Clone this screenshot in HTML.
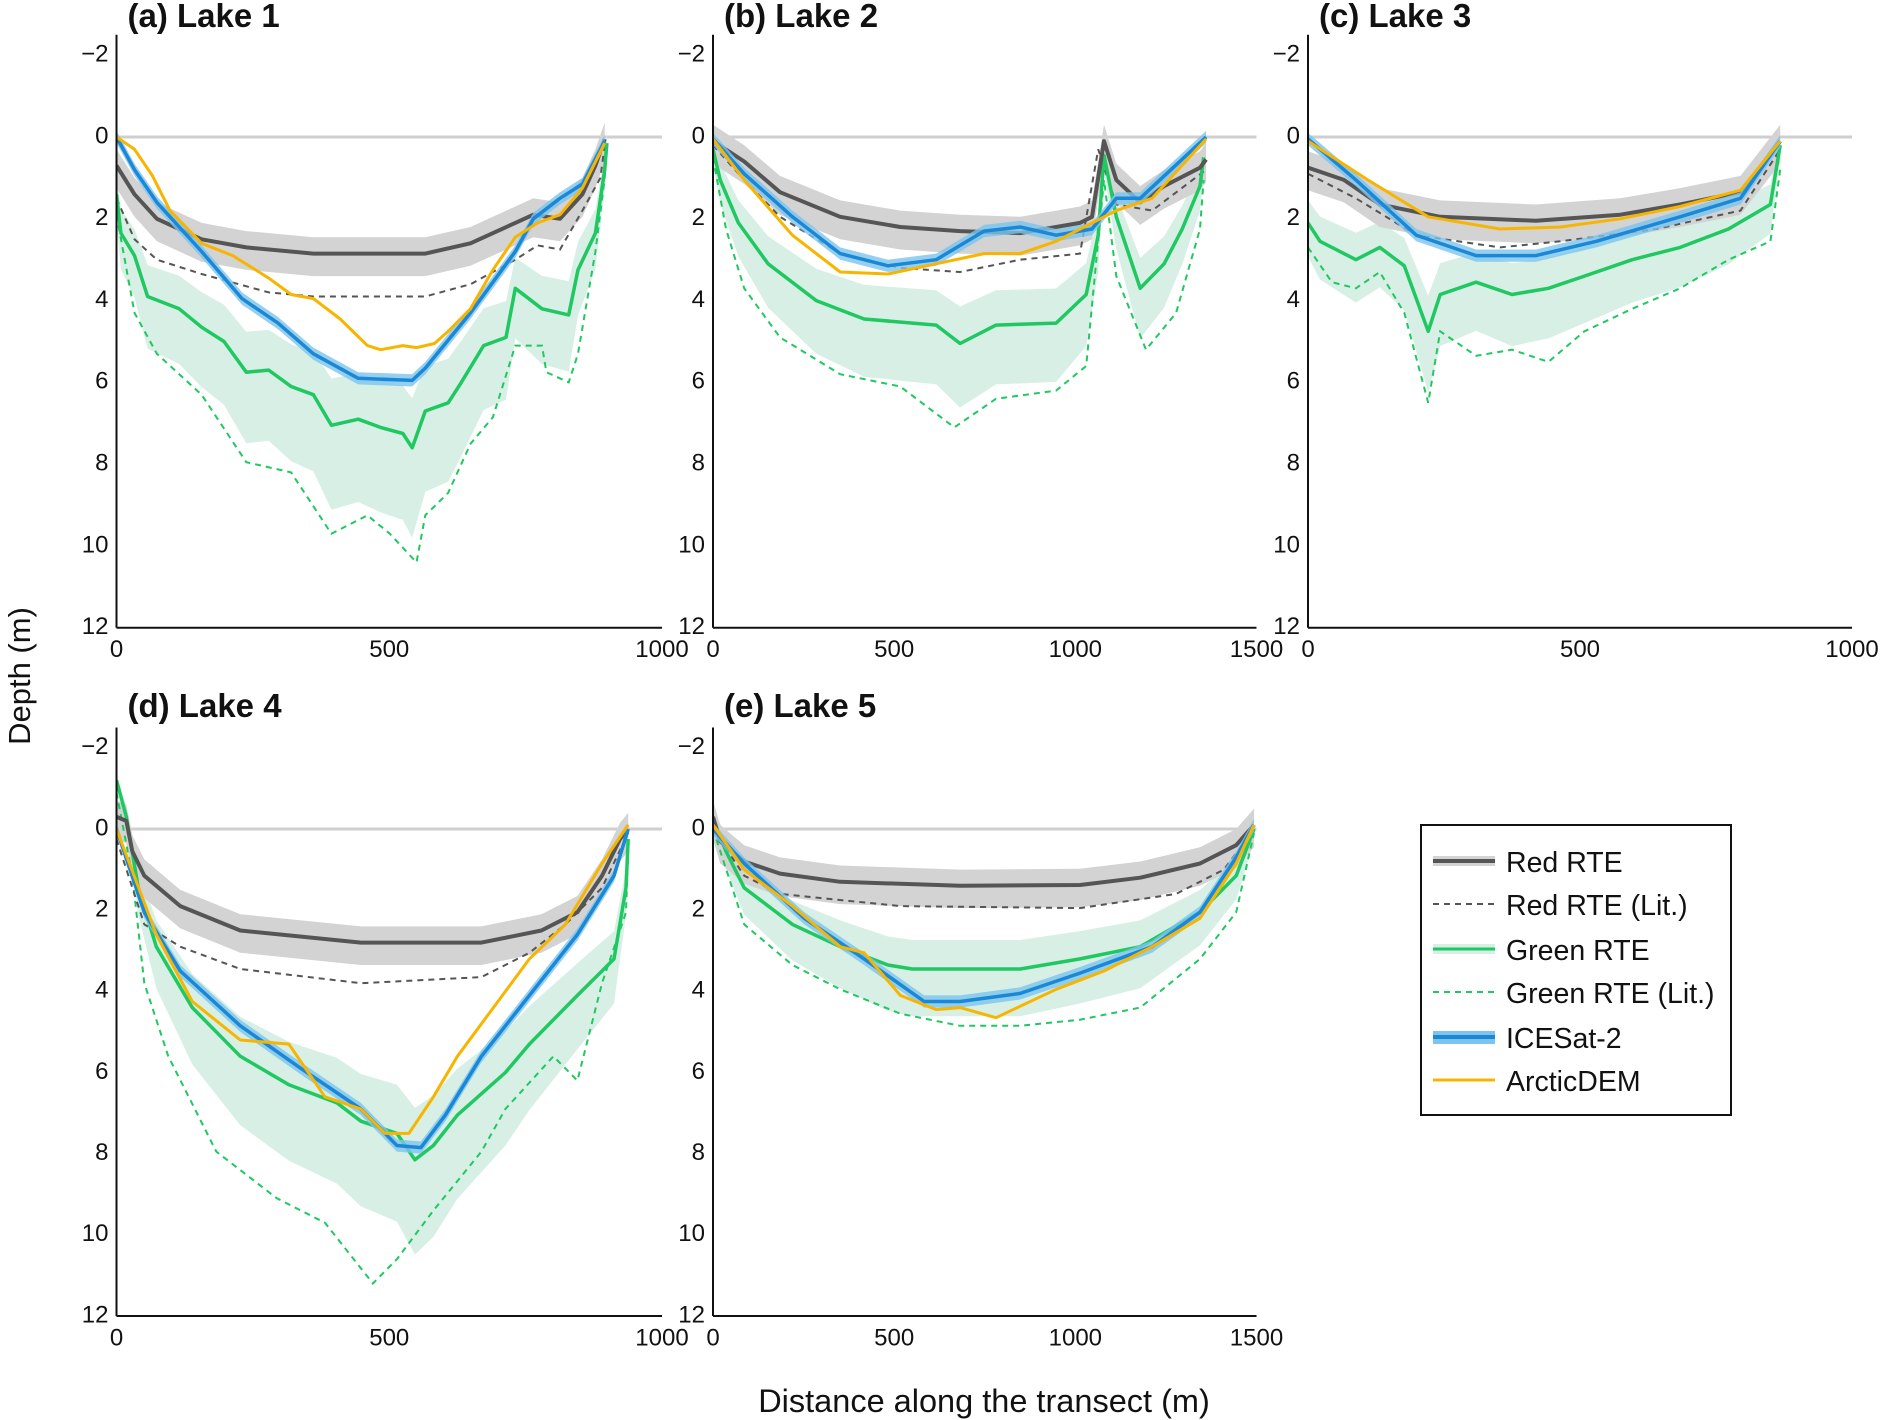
<!DOCTYPE html>
<html><head><meta charset="utf-8">
<style>
html,body{margin:0;padding:0;background:#fff;}
svg{display:block;font-family:"Liberation Sans",Arial,sans-serif;}
</style></head>
<body>
<svg id="fig" width="1881" height="1420" viewBox="0 0 1881 1420" xmlns="http://www.w3.org/2000/svg">
<text x="22" y="676" font-size="31" text-anchor="middle" transform="rotate(-90 22 676)" dominant-baseline="middle" fill="#111">Depth (m)</text>
<text x="984" y="1412" font-size="32.5" text-anchor="middle" fill="#111">Distance along the transect (m)</text>
<g>
<rect x="1421" y="825" width="310" height="290" fill="#fff" stroke="#111" stroke-width="2"/>
<g><rect x="1433" y="856" width="62" height="10" fill="#d3d3d3"/><line x1="1433" y1="861" x2="1495" y2="861" stroke="#555" stroke-width="4"/><text x="1506" y="872" font-size="28.5" fill="#111">Red RTE</text></g>
<g><line x1="1433" y1="904" x2="1495" y2="904" stroke="#555" stroke-width="2" stroke-dasharray="6,5"/><text x="1506" y="915" font-size="28.5" fill="#111">Red RTE (Lit.)</text></g>
<g><rect x="1433" y="944" width="62" height="10" fill="#d7efe5"/><line x1="1433" y1="949" x2="1495" y2="949" stroke="#1fc861" stroke-width="3"/><text x="1506" y="960" font-size="28.5" fill="#111">Green RTE</text></g>
<g><line x1="1433" y1="992" x2="1495" y2="992" stroke="#1fc861" stroke-width="2" stroke-dasharray="6,5"/><text x="1506" y="1003" font-size="28.5" fill="#111">Green RTE (Lit.)</text></g>
<g><rect x="1433" y="1031" width="62" height="13" fill="#7cc4ee"/><line x1="1433" y1="1037" x2="1495" y2="1037" stroke="#1a88d6" stroke-width="4"/><text x="1506" y="1048" font-size="28.5" fill="#111">ICESat-2</text></g>
<g><line x1="1433" y1="1080" x2="1495" y2="1080" stroke="#f7b500" stroke-width="3"/><text x="1506" y="1091" font-size="28.5" fill="#111">ArcticDEM</text></g>
</g>
</svg>
<script>
// ---- Data: [distance (m), depth (m)] ----
const lake1Red=[[0,0.7],[33,1.4],[74,2.0],[156,2.5],[238,2.7],[361,2.85],[566,2.85],[649,2.6],[731,2.1],[764,1.9],[813,2.0],[854,1.4],[878,0.7],[895,0.05]];
const lake1RedLit=[[0,1.5],[33,2.5],[74,3.0],[156,3.35],[279,3.8],[361,3.9],[566,3.9],[649,3.6],[731,3.0],[772,2.65],[813,2.75],[854,1.8],[887,1.0],[895,0.2]];
const lake1Green=[[0,1.4],[8,2.35],[33,2.9],[57,3.9],[115,4.2],[156,4.65],[197,5.0],[238,5.75],[279,5.7],[320,6.1],[361,6.3],[394,7.05],[443,6.9],[484,7.1],[525,7.25],[542,7.6],[566,6.7],[608,6.5],[632,6.0],[673,5.1],[714,4.9],[731,3.7],[780,4.2],[829,4.35],[846,3.25],[878,2.35],[895,0.8],[899,0.15]];
const lake1GreenLit=[[0,1.9],[33,4.3],[74,5.3],[156,6.3],[238,7.95],[320,8.2],[394,9.7],[460,9.25],[501,9.7],[550,10.4],[566,9.25],[608,8.7],[649,7.5],[690,6.85],[731,5.1],[780,5.1],[788,5.75],[829,6.0],[846,5.3],[878,2.8],[895,1.0],[899,0.2]];
const lake1Ice=[[0,0],[33,0.8],[74,1.6],[156,2.8],[230,3.95],[296,4.55],[361,5.3],[443,5.9],[542,5.95],[566,5.65],[649,4.3],[731,2.8],[764,2.0],[813,1.5],[854,1.15],[895,0.1]];
const lake1Dem=[[0,0],[33,0.3],[66,0.95],[98,1.8],[156,2.6],[213,2.9],[279,3.45],[320,3.85],[361,3.95],[410,4.45],[460,5.1],[484,5.2],[525,5.1],[550,5.15],[583,5.05],[608,4.75],[649,4.2],[690,3.25],[731,2.45],[772,2.1],[813,1.9],[854,1.25],[895,0.15]];

const lake2Red=[[0,0.1],[86,0.6],[185,1.35],[351,1.95],[517,2.2],[682,2.3],[848,2.35],[947,2.2],[1013,2.1],[1046,1.95],[1079,0.1],[1113,1.05],[1179,1.6],[1245,1.2],[1344,0.75],[1361,0.55]];
const lake2RedLit=[[0,0.2],[86,1.05],[185,1.95],[351,2.85],[517,3.2],[682,3.3],[848,3.0],[1013,2.85],[1063,0.3],[1113,1.65],[1212,1.8],[1361,0.8]];
const lake2Green=[[0,0.3],[20,1.05],[70,2.1],[152,3.1],[285,4.0],[417,4.45],[616,4.6],[682,5.05],[781,4.6],[947,4.55],[1030,3.85],[1063,2.4],[1079,0.45],[1113,1.95],[1179,3.7],[1245,3.1],[1295,2.25],[1344,1.2],[1354,0.5]];
const lake2GreenLit=[[0,0.5],[36,2.25],[86,3.7],[185,4.9],[351,5.8],[517,6.1],[666,7.1],[781,6.4],[947,6.2],[1030,5.6],[1079,1.05],[1113,3.4],[1195,5.2],[1278,4.3],[1344,2.25],[1354,1.05]];
const lake2Ice=[[0,0.05],[86,0.9],[219,1.95],[351,2.85],[483,3.15],[616,3.0],[748,2.3],[848,2.2],[947,2.4],[1046,2.25],[1113,1.5],[1179,1.5],[1361,0]];
const lake2Dem=[[0,0.05],[86,1.05],[219,2.4],[351,3.3],[483,3.35],[616,3.1],[748,2.85],[848,2.85],[947,2.55],[1046,2.1],[1113,1.8],[1212,1.5],[1361,0.05]];

const lake3Red=[[0,0.75],[66,1.05],[132,1.65],[243,1.95],[419,2.05],[574,1.9],[684,1.65],[795,1.35],[868,0.1]];
const lake3RedLit=[[0,0.9],[88,1.5],[199,2.4],[353,2.7],[464,2.55],[640,2.25],[795,1.8],[868,0.3]];
const lake3Green=[[0,2.1],[22,2.55],[88,3.0],[132,2.7],[177,3.15],[221,4.75],[243,3.85],[309,3.55],[375,3.85],[442,3.7],[508,3.4],[596,3.0],[684,2.7],[773,2.25],[850,1.65],[868,0.2]];
const lake3GreenLit=[[0,2.7],[44,3.55],[88,3.7],[132,3.3],[177,4.3],[221,6.5],[243,4.75],[309,5.35],[375,5.2],[442,5.5],[508,4.75],[596,4.2],[684,3.7],[773,3.0],[850,2.55],[868,0.8]];
const lake3Ice=[[0,0.05],[88,1.05],[199,2.4],[309,2.9],[419,2.9],[530,2.55],[684,1.95],[795,1.5],[868,0.1]];
const lake3Dem=[[0,0.1],[110,1.05],[221,1.95],[353,2.25],[464,2.2],[574,2.0],[684,1.7],[795,1.3],[868,0.1]];

const lake4Red=[[0,-0.3],[18,-0.2],[29,0.55],[51,1.15],[117,1.9],[227,2.5],[448,2.8],[669,2.8],[779,2.5],[845,2.05],[890,1.15],[923,0.25],[938,0]];
const lake4RedLit=[[0,0.25],[51,2.35],[117,2.9],[227,3.45],[448,3.8],[669,3.65],[757,3.05],[823,2.35],[890,1.45],[938,0.1]];
const lake4Green=[[0,-1.2],[18,-0.3],[40,1.45],[73,2.9],[139,4.4],[227,5.6],[316,6.3],[404,6.75],[448,7.2],[514,7.5],[547,8.15],[581,7.8],[625,7.05],[713,6.0],[757,5.3],[845,4.1],[890,3.5],[912,3.2],[934,1.45],[938,0.25]];
const lake4GreenLit=[[0,-0.9],[29,1.15],[51,3.8],[95,5.6],[183,7.95],[294,9.1],[382,9.7],[470,11.2],[514,10.6],[581,9.4],[669,7.95],[713,6.9],[801,5.6],[845,6.2],[890,3.8],[934,2.05],[938,0.55]];
const lake4Ice=[[0,0],[51,2.05],[117,3.5],[227,4.85],[338,5.9],[448,6.9],[514,7.8],[558,7.85],[603,7.05],[669,5.6],[757,4.1],[845,2.6],[912,1.15],[938,0]];
const lake4Dem=[[0,0],[73,2.6],[139,4.25],[227,5.2],[316,5.3],[382,6.6],[448,6.9],[492,7.5],[536,7.5],[581,6.6],[625,5.6],[691,4.4],[757,3.2],[823,2.35],[890,0.85],[938,-0.1]];

const lake5Red=[[0,-0.3],[20,0.3],[86,0.8],[185,1.1],[351,1.3],[682,1.4],[1013,1.38],[1179,1.2],[1344,0.85],[1444,0.4],[1493,-0.1]];
const lake5RedLit=[[0,0],[86,1.15],[185,1.6],[517,1.9],[1013,1.95],[1278,1.6],[1410,1.0],[1493,0]];
const lake5Green=[[0,-0.25],[36,0.55],[86,1.45],[219,2.35],[351,2.9],[483,3.35],[550,3.45],[682,3.45],[848,3.45],[1013,3.2],[1179,2.9],[1344,2.05],[1444,1.15],[1493,0]];
const lake5GreenLit=[[0,0],[53,1.45],[86,2.35],[219,3.35],[351,3.95],[517,4.55],[682,4.85],[848,4.85],[1013,4.7],[1179,4.4],[1344,3.2],[1444,2.05],[1493,0.1]];
const lake5Ice=[[0,0],[86,0.85],[252,2.2],[417,3.2],[583,4.25],[682,4.25],[848,4.05],[1013,3.55],[1212,2.9],[1344,2.05],[1444,0.7],[1493,-0.1]];
const lake5Dem=[[0,-0.1],[86,1.0],[219,1.9],[351,2.9],[417,3.05],[517,4.1],[616,4.45],[682,4.4],[781,4.65],[947,3.95],[1079,3.5],[1212,2.9],[1344,2.2],[1444,0.85],[1493,-0.1]];

const yTicks=[-2,0,2,4,6,8,10,12];
const xTicksA=[0,500,1000];
const xTicksB=[0,500,1000,1500];
const panelTitles=["(a) Lake 1","(b) Lake 2","(c) Lake 3","(d) Lake 4","(e) Lake 5"];

const NS="http://www.w3.org/2000/svg";
const svg=document.getElementById('fig');
function mk(tag,attrs,parent){const e=document.createElementNS(NS,tag);for(const k in attrs)e.setAttribute(k,attrs[k]);(parent||svg).appendChild(e);return e;}

const panels=[
 {x0:116.5,x1:662,y0:137,y12:627.8,xmax:1000,ticks:xTicksA,series:[lake1Red,lake1RedLit,lake1Green,lake1GreenLit,lake1Ice,lake1Dem]},
 {x0:713,x1:1256.5,y0:137,y12:627.8,xmax:1500,ticks:xTicksB,series:[lake2Red,lake2RedLit,lake2Green,lake2GreenLit,lake2Ice,lake2Dem]},
 {x0:1308,x1:1852,y0:137,y12:627.8,xmax:1000,ticks:xTicksA,series:[lake3Red,lake3RedLit,lake3Green,lake3GreenLit,lake3Ice,lake3Dem]},
 {x0:116.5,x1:662,y0:829,y12:1316,xmax:1000,ticks:xTicksA,series:[lake4Red,lake4RedLit,lake4Green,lake4GreenLit,lake4Ice,lake4Dem]},
 {x0:713,x1:1256.5,y0:829,y12:1316,xmax:1500,ticks:xTicksB,series:[lake5Red,lake5RedLit,lake5Green,lake5GreenLit,lake5Ice,lake5Dem]}
];

panels.forEach((p,i)=>{
  const g=mk('g',{});
  
  
  const sx=d=>p.x0+(d/p.xmax)*(p.x1-p.x0);
  const sy=v=>p.y0+(v/12)*(p.y12-p.y0);
  const top=sy(-2.5);
  const clipId='clip'+i;
  const cp=mk('clipPath',{id:clipId},g);
  mk('rect',{x:p.x0,y:top,width:p.x1-p.x0,height:p.y12-top},cp);
  const pl=arr=>arr.map(q=>sx(q[0]).toFixed(1)+','+sy(q[1]).toFixed(1)).join(' ');
  const band=(arr,lo,hi)=>{const a=arr.map(q=>sx(q[0]).toFixed(1)+','+sy(q[1]+lo(q)).toFixed(1));const b=arr.slice().reverse().map(q=>sx(q[0]).toFixed(1)+','+sy(q[1]+hi(q)).toFixed(1));return a.concat(b).join(' ');};
  const [red,redLit,green,greenLit,ice,dem]=p.series;
  const c=mk('g',{'clip-path':'url(#'+clipId+')'},g);
  const z=mk('line',{x1:p.x0,x2:p.x1,y1:sy(0),y2:sy(0),stroke:'#cfcfcf','stroke-width':3},c);
  
  
  const gb=mk('polygon',{points:band(green,q=>-0.12*q[1]-0.3,q=>0.25*q[1]+0.3),fill:'#d7efe5'},c);
  
  
  const rb=mk('polygon',{points:band(red,q=>-0.4,q=>0.55),fill:'#d3d3d3'},c);
  
  
  const gl=mk('polyline',{points:pl(greenLit),fill:'none',stroke:'#1fc861','stroke-width':2,'stroke-dasharray':'6,5'},c);
  
  
  const rl=mk('polyline',{points:pl(redLit),fill:'none',stroke:'#555','stroke-width':2,'stroke-dasharray':'6,5'},c);
  
  
  const gn=mk('polyline',{points:pl(green),fill:'none',stroke:'#1fc861','stroke-width':3.5,'stroke-linejoin':'round'},c);
  
  
  const rd=mk('polyline',{points:pl(red),fill:'none',stroke:'#555','stroke-width':4,'stroke-linejoin':'round'},c);
  
  
  const ib=mk('polygon',{points:band(ice,q=>-0.15,q=>0.15),fill:'#7cc4ee',opacity:0.8},c);
  
  
  const ic=mk('polyline',{points:pl(ice),fill:'none',stroke:'#1a88d6','stroke-width':3.5,'stroke-linejoin':'round'},c);
  
  
  const dm=mk('polyline',{points:pl(dem),fill:'none',stroke:'#f7b500','stroke-width':3,'stroke-linejoin':'round'},c);
  
  
  const ls=mk('line',{x1:p.x0,x2:p.x0,y1:top,y2:p.y12,stroke:'#111','stroke-width':2},g);
  
  
  const bs=mk('line',{x1:p.x0,x2:p.x1,y1:p.y12,y2:p.y12,stroke:'#111','stroke-width':2},g);
  
  
  yTicks.forEach(t=>{
    const tx=mk('text',{x:p.x0-8,y:sy(t),'font-size':24,'text-anchor':'end','dominant-baseline':'middle',fill:'#111'},g);
    
    
    tx.textContent=t<0?'\u2212'+Math.abs(t):String(t);
  });
  p.ticks.forEach(t=>{
    const tx=mk('text',{x:sx(t),y:p.y12+23,'font-size':24,'text-anchor':'middle','dominant-baseline':'middle',fill:'#111'},g);
    
    
    tx.textContent=String(t);
  });
  const tt=mk('text',{x:p.x0+11,y:i<3?27:717,'font-size':33,'font-weight':'bold',fill:'#111'},g);
  
  
  tt.textContent=panelTitles[i];
});
</script>
</body></html>
